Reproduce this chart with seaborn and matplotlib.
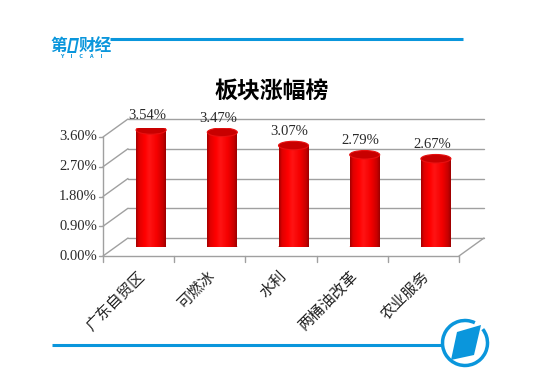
import matplotlib
matplotlib.use('Agg')
import matplotlib.pyplot as plt
import seaborn as sns
import numpy as np
import pandas as pd
from matplotlib.transforms import ScaledTranslation
from matplotlib.patches import Ellipse, Rectangle, Arc, Polygon
from matplotlib.colors import LinearSegmentedColormap

categories = ["广东自贸区", "可燃冰", "水利", "两桶油改革", "农业服务"]
values = [3.54, 3.47, 3.07, 2.79, 2.67]
value_labels = ["3.54%", "3.47%", "3.07%", "2.79%", "2.67%"]
y_ticks = [0.0, 0.9, 1.8, 2.7, 3.6]
y_tick_labels = ["0.00%", "0.90%", "1.80%", "2.70%", "3.60%"]
title = "板块涨幅榜"

sns.set_theme(style="white")
plt.rcParams['font.family'] = ['Noto Sans CJK SC', 'DejaVu Sans']

W, H, DPI = 551, 382, 100
fig = plt.figure(figsize=(W / DPI, H / DPI), dpi=DPI)
fig.patch.set_facecolor('white')

BLUE = '#0a96dc'
GRID = '#a0a0a0'
SERIF = ['Liberation Serif', 'DejaVu Serif']

# ---------- decoration layer (pixel coordinates, y downwards) ----------
deco = fig.add_axes([0, 0, 1, 1])
deco.set_xlim(0, W)
deco.set_ylim(H, 0)
deco.set_axis_off()
deco.plot([110, 463], [38.5, 38.5], color=BLUE, lw=2.2, solid_capstyle='butt')
deco.plot([52, 443], [345, 345], color=BLUE, lw=2.2, solid_capstyle='butt')
deco.text(50, 45.5, "第", color=BLUE, fontsize=12, fontweight='bold', ha='left', va='center')
deco.add_patch(Polygon([[67, 53], [70, 38], [79, 38], [76, 53]], closed=True, facecolor=BLUE, edgecolor='none'))
deco.add_patch(Polygon([[69.5, 51], [71.5, 40.5], [76.5, 40.5], [74.5, 51]], closed=True, facecolor='white', edgecolor='none'))
deco.text(79, 45.5, "财经", color=BLUE, fontsize=12, fontweight='bold', ha='left', va='center')
deco.text(81.5, 57, "Y    I    C    A    I", color=BLUE, fontsize=3.5, fontweight='bold', ha='center', va='center',
          family=['DejaVu Sans'])
deco.add_patch(Arc((465, 343), 45, 45, theta1=322, theta2=296, color=BLUE, lw=2.5))
deco.add_patch(Polygon([[457, 332], [481, 325], [474, 355], [451, 360]], closed=True, facecolor=BLUE, edgecolor='none'))
deco.text(272, 91, title, color='black', fontsize=16.5, fontweight='bold', ha='center', va='center')

# ---------- chart (mid-depth plane) ----------
ax = fig.add_axes([115.5 / W, 135 / H, 356 / W, 119 / H])
df = pd.DataFrame({"板块": categories, "涨幅": values})
sns.barplot(data=df, x="板块", y="涨幅", color='#ff0000', width=0.42, ax=ax,
            saturation=1, edgecolor='none', zorder=2)
ax.set_xlim(-0.5, len(categories) - 0.5)
ax.set_ylim(0, 3.6)
ax.set_axis_off()

DX, DY = 0.125, 0.09  # half depth offset in inches
back = ax.transData + ScaledTranslation(DX, DY, fig.dpi_scale_trans)
front = ax.transData + ScaledTranslation(-DX, -DY, fig.dpi_scale_trans)

def at(x, y):
    return fig.dpi_scale_trans + ScaledTranslation(x, y, ax.transData)

x0, x1 = -0.5, len(categories) - 0.5
for v, lab in zip(y_ticks, y_tick_labels):
    ax.plot([x0, x1], [v, v], transform=back, color=GRID, lw=1, clip_on=False, zorder=0.5)
    ax.plot([-DX, DX], [-DY, DY], transform=at(x0, v), color=GRID, lw=1, clip_on=False, zorder=0.5)
    ax.plot([-DX - 0.04, -DX], [-DY, -DY], transform=at(x0, v), color=GRID, lw=1, clip_on=False, zorder=0.5)
    ax.text(-DX - 0.06, -DY, lab, transform=at(x0, v), ha='right', va='center',
            fontsize=10.5, family=SERIF, color='#2a2a2a')
# floor
ax.plot([x0, x1], [0, 0], transform=front, color=GRID, lw=1, clip_on=False, zorder=0.5)
ax.plot([-DX, DX], [-DY, DY], transform=at(x1, 0), color=GRID, lw=1, clip_on=False, zorder=0.5)
# front y axis
ax.plot([x0, x0], [0, y_ticks[-1]], transform=front, color=GRID, lw=1, clip_on=False, zorder=0.5)
# x ticks
for k in range(len(categories) + 1):
    ax.plot([-DX, -DX], [-DY, -DY - 0.06], transform=at(x0 + k, 0), color=GRID, lw=1, clip_on=False, zorder=0.5)
for i, c in enumerate(categories):
    ax.text(-DX + 0.03, -DY - 0.18, c, transform=at(i, 0), ha='right', va='center', rotation=45,
            rotation_mode='anchor', fontsize=11, color='#222222')

# cylinder shading
cmap = LinearSegmentedColormap.from_list('cyl', [
    (0.0, '#a00000'), (0.10, '#e00000'), (0.3, '#ff0000'), (0.45, '#ff1414'),
    (0.7, '#f50000'), (0.9, '#c80000'), (1.0, '#9a0000')])
grad = np.linspace(0, 1, 256)[None, :]
EW, EH = 0.30, 0.085
for i, p in enumerate(ax.patches):
    bx, bw, bh = p.get_x(), p.get_width(), p.get_height()
    cx = bx + bw / 2
    im = ax.imshow(grad, cmap=cmap, aspect='auto', extent=(bx, bx + bw, -0.3, bh), zorder=2.1,
                   interpolation='bilinear')
    im.set_clip_path(p)
    bottom = Ellipse((0, 0), EW, EH, transform=at(cx, 0), facecolor='#ff0000', edgecolor='none', zorder=2)
    ax.add_patch(bottom)
    im2 = ax.imshow(grad, cmap=cmap, aspect='auto', extent=(bx, bx + bw, -0.3, bh), zorder=2.1,
                    interpolation='bilinear')
    im2.set_clip_path(bottom)
    top = Ellipse((0, 0), EW, EH, transform=at(cx, bh), facecolor='#c80000', edgecolor='#e81010',
                  lw=0.8, zorder=2.3)
    ax.add_patch(top)
    ax.text(-0.04, 0.14, value_labels[i], transform=at(cx, bh), ha='center', va='center',
            fontsize=10.5, family=SERIF, color='#2a2a2a', zorder=3)

ax.set_xlim(-0.5, len(categories) - 0.5)
ax.set_ylim(0, 3.6)

fig.savefig('out.png', dpi=DPI, facecolor='white')
